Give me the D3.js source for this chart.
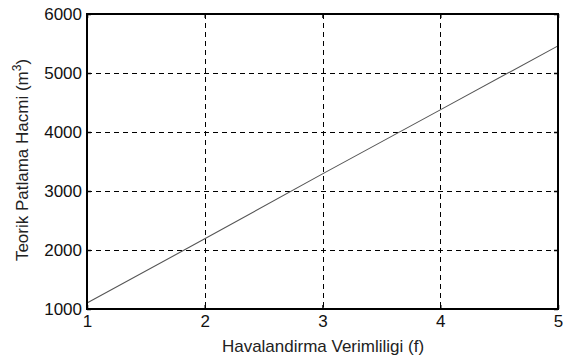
<!DOCTYPE html>
<html>
<head>
<meta charset="utf-8">
<script src="https://cdn.jsdelivr.net/npm/d3@7"></script>
<style>
  html, body { margin: 0; padding: 0; background: #fff; }
  svg { display: block; font-family: "Liberation Sans", Arial, sans-serif; }
</style>
</head>
<body>
<svg id="chart" width="563" height="360"></svg>
<script>
// Ventilation efficiency vs. theoretical explosion volume
const efficiency = [1, 2, 3, 4, 5];
const volume = [1100, 2190, 3290, 4375, 5460];
const xTicks = [1, 2, 3, 4, 5];
const yTicks = [1000, 2000, 3000, 4000, 5000, 6000];

const svg = d3.select("#chart");
const margin = { left: 87, right: 5, top: 14, bottom: 51 };
const W = 563, H = 360;
const FONT = "17px";

const x = d3.scaleLinear().domain([1, 5]).range([margin.left, W - margin.right]);
const y = d3.scaleLinear().domain([1000, 6000]).range([H - margin.bottom, margin.top]);

// dashed grid
const grid = svg.append("g").attr("stroke", "#000").attr("stroke-width", 1)
  .attr("stroke-dasharray", "5,4").attr("fill", "none");
xTicks.slice(1, -1).forEach(t => {
  grid.append("line").attr("x1", Math.round(x(t)) + 0.5).attr("x2", Math.round(x(t)) + 0.5)
    .attr("y1", y(6000)).attr("y2", y(1000));
});
yTicks.slice(1, -1).forEach(t => {
  grid.append("line").attr("y1", Math.round(y(t)) + 0.5).attr("y2", Math.round(y(t)) + 0.5)
    .attr("x1", x(1)).attr("x2", x(5));
});

// data line
const line = d3.line().x((d, i) => x(efficiency[i])).y(d => y(d));
svg.append("path").datum(volume).attr("d", line)
  .attr("fill", "none").attr("stroke", "#555").attr("stroke-width", 1.1);

// axes with inward ticks
const xAxis = d3.axisBottom(x).tickValues(xTicks).tickSize(-4).tickPadding(6).tickFormat(d3.format("d"));
const yAxis = d3.axisLeft(y).tickValues(yTicks).tickSize(-4).tickPadding(5).tickFormat(d3.format("d"));
const xTop = d3.axisTop(x).tickValues(xTicks).tickSize(-4).tickFormat("");
const yRight = d3.axisRight(y).tickValues(yTicks).tickSize(-4).tickFormat("");

function style(g) {
  g.select(".domain").remove();
  g.selectAll("line").attr("stroke", "#000").attr("stroke-width", 1.5);
  g.selectAll("text").attr("fill", "#111").style("font-size", FONT)
    .style("font-family", "'Liberation Sans', Arial, sans-serif");
}
svg.append("g").attr("transform", `translate(0,${y(1000)})`).call(xAxis).call(style);
svg.append("g").attr("transform", `translate(${x(1)},0)`).call(yAxis).call(style);
svg.append("g").attr("transform", `translate(0,${y(6000)})`).call(xTop).call(style);
svg.append("g").attr("transform", `translate(${x(5)},0)`).call(yRight).call(style);

// axes box
svg.append("rect").attr("x", x(1)).attr("y", y(6000))
  .attr("width", x(5) - x(1)).attr("height", y(1000) - y(6000))
  .attr("fill", "none").attr("stroke", "#000").attr("stroke-width", 2);

// axis titles
svg.append("text").attr("x", 323).attr("y", 352).attr("text-anchor", "middle")
  .attr("fill", "#222").style("font-size", FONT).text("Havalandirma Verimliligi (f)");

const yl = svg.append("text").attr("transform", "translate(28,160) rotate(-90)")
  .attr("text-anchor", "middle").attr("fill", "#222").style("font-size", FONT);
yl.append("tspan").text("Teorik  Patlama Hacmi (m");
yl.append("tspan").attr("dy", -7).style("font-size", "12px").text("3");
yl.append("tspan").attr("dy", 7).text(")");
</script>
</body>
</html>
